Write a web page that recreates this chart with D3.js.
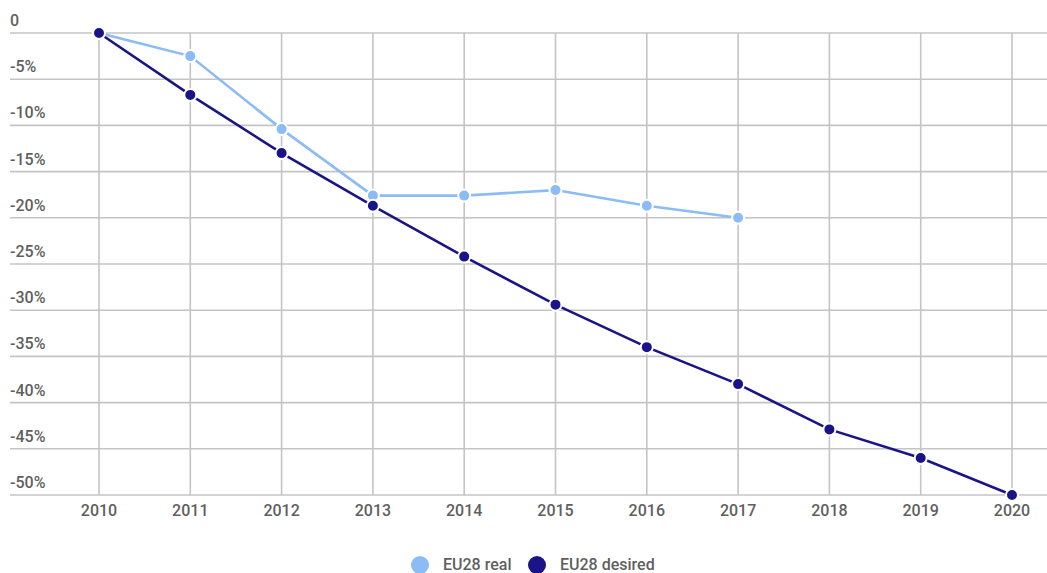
<!DOCTYPE html>
<html>
<head>
<meta charset="utf-8">
<script src="https://cdnjs.cloudflare.com/ajax/libs/d3/7.8.5/d3.min.js"></script>
<style>
  body { margin: 0; background: #fff; }
  text { font-family: Roboto, "Noto Sans", sans-serif; font-weight: 500; }
</style>
</head>
<body>
<script>
let svgWidth = 1047
let svgHeight = 573

// data
let years = [2010, 2011, 2012, 2013, 2014, 2015, 2016, 2017, 2018, 2019, 2020]
let realValues = [0, -2.5, -10.4, -17.6, -17.6, -17.0, -18.7, -20.0]
let desiredValues = [0, -6.7, -13.0, -18.7, -24.2, -29.4, -34.0, -38.0, -42.9, -46.0, -50.0]
let yTicks = [0, -5, -10, -15, -20, -25, -30, -35, -40, -45, -50]
let seriesNames = ['EU28 real', 'EU28 desired']
let seriesColors = ['#8bbcf6', '#1a1488']

var svg = d3.select('body')
    .append('svg')
    .attr('width', svgWidth)
    .attr('height', svgHeight)

var x = d3.scalePoint().domain(years).range([99, 1012])
var y = d3.scaleLinear().domain([0, -50]).range([33, 495])

// horizontal grid + labels
var yAxis = svg.append('g')
yAxis.selectAll('line')
    .data(yTicks)
    .enter()
    .append('line')
    .attr('x1', 10)
    .attr('x2', svgWidth)
    .attr('y1', d => y(d))
    .attr('y2', d => y(d))
    .attr('stroke', '#c4c4c4')
    .attr('stroke-width', 1.6)

yAxis.selectAll('text')
    .data(yTicks)
    .enter()
    .append('text')
    .attr('x', 10)
    .attr('y', d => y(d) - 7)
    .attr('fill', '#5f5f5f')
    .attr('font-size', 16)
    .text(d => d === 0 ? '0' : d + '%')

// vertical grid + labels
var xAxis = svg.append('g')
xAxis.selectAll('line')
    .data(years)
    .enter()
    .append('line')
    .attr('x1', d => x(d))
    .attr('x2', d => x(d))
    .attr('y1', y(0))
    .attr('y2', y(-50))
    .attr('stroke', '#c4c4c4')
    .attr('stroke-width', 1.6)

xAxis.selectAll('text')
    .data(years)
    .enter()
    .append('text')
    .attr('x', d => x(d))
    .attr('y', 516)
    .attr('text-anchor', 'middle')
    .attr('fill', '#5f5f5f')
    .attr('font-size', 16)
    .text(d => d)

var series = [realValues, desiredValues]
var line = d3.line()
    .x((d, i) => x(years[i]))
    .y(d => y(d))

// real first, desired on top (dark dot covers 2010)
series.forEach((vals, k) => {
    let g = svg.append('g')
    g.append('path')
        .datum(vals)
        .attr('d', line)
        .attr('fill', 'none')
        .attr('stroke', seriesColors[k])
        .attr('stroke-width', 2.6)
    g.selectAll('circle')
        .data(vals)
        .enter()
        .append('circle')
        .attr('cx', (d, i) => x(years[i]))
        .attr('cy', d => y(d))
        .attr('r', 6)
        .attr('fill', seriesColors[k])
        .attr('stroke', '#fff')
        .attr('stroke-width', 2)
})

// legend
var legend = svg.append('g')
let legendX = [420, 537]
seriesNames.forEach((name, i) => {
    legend.append('circle')
        .attr('cx', legendX[i])
        .attr('cy', 565)
        .attr('r', 9)
        .attr('fill', seriesColors[i])
    legend.append('text')
        .attr('x', legendX[i] + 23)
        .attr('y', 570)
        .attr('fill', '#5f5f5f')
        .attr('font-size', 16)
        .text(name)
})
</script>
</body>
</html>
